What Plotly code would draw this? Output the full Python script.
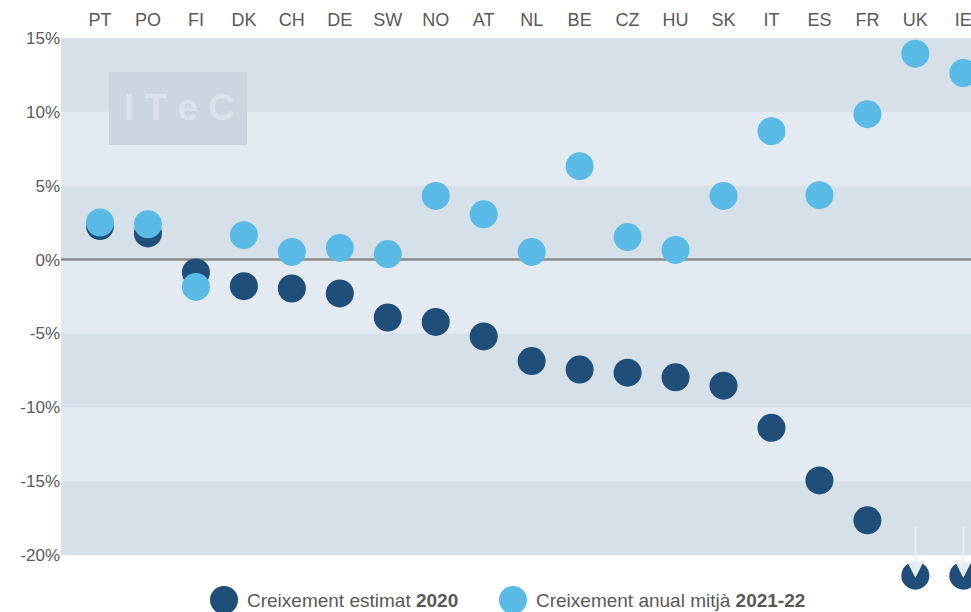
import plotly.graph_objects as go

countries = ["PT", "PO", "FI", "DK", "CH", "DE", "SW", "NO", "AT", "NL",
             "BE", "CZ", "HU", "SK", "IT", "ES", "FR", "UK", "IE"]
growth_2020 = [2.27, 1.77, -0.87, -1.80, -1.96, -2.29, -3.92, -4.22, -5.20, -6.87,
               -7.45, -7.66, -7.97, -8.54, -11.39, -14.95, -17.65, -21.4, -21.4]
growth_2021_22 = [2.51, 2.39, -1.85, 1.65, 0.52, 0.79, 0.37, 4.31, 3.06, 0.52,
                  6.32, 1.52, 0.65, 4.31, 8.69, 4.36, 9.84, 13.94, 12.63]
offscale_countries = ["UK", "IE"]
y_ticks = [15, 10, 5, 0, -5, -10, -15, -20]
y_tick_labels = ["15%", "10%", "5%", "0%", "-5%", "-10%", "-15%", "-20%"]
name_2020 = "Creixement estimat <b>2020</b>"
name_2122 = "Creixement anual mitjà <b>2021-22</b>"

DARK = "#1f4e79"
LIGHT = "#5bbbe7"
BAND_DARK = "#d6e0e9"
BAND_LIGHT = "#e4eaf2"
TEXT = "#595959"
FONT = "Liberation Sans, Arial, sans-serif"

W, H = 971, 612
L, T = 61, 38
PW, PH = W - L, H - T
Y_TOP = 15
PX_PER_UNIT = (555 - 38) / 35.0
Y_BOTTOM = Y_TOP - PH / PX_PER_UNIT


def xp(px):
    return (px - L) / PW


def yp(py):
    return (H - py) / PH


idx = list(range(len(countries)))

fig = go.Figure()
fig.add_trace(go.Scatter(x=idx, y=growth_2020, mode="markers", name=name_2020,
                         marker=dict(size=28, color=DARK), cliponaxis=False,
                         showlegend=False))
fig.add_trace(go.Scatter(x=idx, y=growth_2021_22, mode="markers", name=name_2122,
                         marker=dict(size=28, color=LIGHT), cliponaxis=False,
                         showlegend=False))

shapes = []
# light background over the full value range, dark bands on top of it
shapes.append(dict(type="rect", xref="paper", yref="y", x0=0, x1=1,
                   y0=y_ticks[-1], y1=y_ticks[0], fillcolor=BAND_LIGHT,
                   line_width=0, layer="below"))
for k in range(0, len(y_ticks) - 1, 2):
    shapes.append(dict(type="rect", xref="paper", yref="y", x0=0, x1=1,
                       y0=y_ticks[k + 1], y1=y_ticks[k],
                       fillcolor=BAND_DARK, line_width=0, layer="below"))
# logo box
shapes.append(dict(type="rect", xref="paper", yref="paper",
                   x0=xp(109), x1=xp(247), y0=yp(145), y1=yp(72),
                   fillcolor="#cdd5e1", line_width=0, layer="below"))
# zero line
shapes.append(dict(type="line", xref="paper", yref="y", x0=0, x1=1, y0=0, y1=0,
                   line=dict(color="#8a8a8a", width=2.5), layer="below"))
# legend circles
for px, col in [(224, DARK), (513, LIGHT)]:
    shapes.append(dict(type="circle", xref="paper", yref="paper",
                       xsizemode="pixel", ysizemode="pixel",
                       xanchor=xp(px), yanchor=yp(600),
                       x0=-14, x1=14, y0=-14, y1=14,
                       fillcolor=col, line_width=0))

annotations = [
    dict(text="I T e C", xref="paper", yref="paper",
         x=xp(179), y=yp(107), showarrow=False,
         font=dict(family=FONT, size=37, color="#dce2eb", weight="bold"),
         xanchor="center", yanchor="middle"),
    dict(text=name_2020, xref="paper", yref="paper",
         x=xp(245), y=yp(600), showarrow=False,
         xanchor="left", yanchor="middle",
         font=dict(family=FONT, size=19, color=TEXT)),
    dict(text=name_2122, xref="paper", yref="paper",
         x=xp(534), y=yp(600), showarrow=False,
         xanchor="left", yanchor="middle",
         font=dict(family=FONT, size=19, color=TEXT)),
]
for c in offscale_countries:
    i = countries.index(c)
    annotations.append(dict(x=i, y=-21.55, ax=i, ay=-18.0, xref="x", yref="y",
                            axref="x", ayref="y", text="", showarrow=True,
                            arrowhead=2, arrowsize=1.6, arrowwidth=2,
                            arrowcolor="#e8edf4"))

fig.update_layout(
    width=W, height=H,
    margin=dict(l=L, r=0, t=T, b=0),
    paper_bgcolor="white",
    plot_bgcolor="white",
    shapes=shapes,
    annotations=annotations,
    font=dict(family=FONT, color=TEXT),
    xaxis=dict(side="top", tickmode="array", tickvals=idx, ticktext=countries,
               range=[-0.813, 18.16], showgrid=False, zeroline=False,
               showline=False, ticks="", ticklabelstandoff=7,
               ticklabeloverflow="allow",
               tickfont=dict(size=18, color=TEXT)),
    yaxis=dict(range=[Y_BOTTOM, Y_TOP], tickmode="array", tickvals=y_ticks,
               ticktext=y_tick_labels, showgrid=False, zeroline=False,
               showline=False, ticks="", tickfont=dict(size=17, color=TEXT)),
)

fig.write_html("out.html")
